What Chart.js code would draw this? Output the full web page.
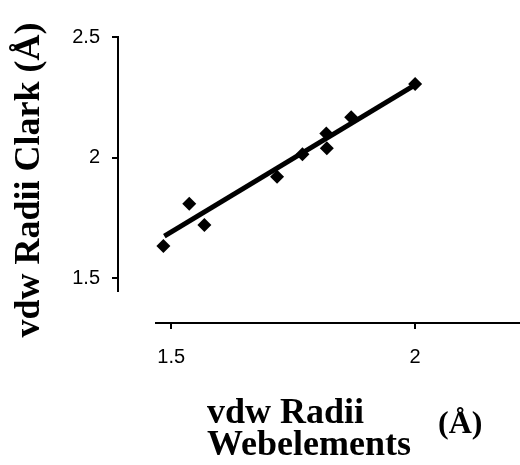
<!DOCTYPE html>
<html>
<head>
<meta charset="utf-8">
<script src="https://cdn.jsdelivr.net/npm/chart.js@4"></script>
<style>
  html, body { margin: 0; padding: 0; background: #fff; }
  #wrap { width: 520px; height: 465px; }
</style>
</head>
<body>
<div id="wrap"><canvas id="chart" width="520" height="465"></canvas></div>
<script>
// values
const webelements = [1.484, 1.537, 1.568, 1.717, 1.769, 1.818, 1.819, 1.869, 2.0];
const clark       = [1.633, 1.808, 1.720, 1.920, 2.013, 2.100, 2.038, 2.167, 2.305];

// fitted line, two ends
const trendX = [1.486, 2.0];
const trendY = [1.674, 2.301];

const xTicks = [1.5, 2];
const yTicks = [1.5, 2, 2.5];

const yTitle = 'vdw Radii Clark (Å)';
const xTitle = ['vdw Radii', 'Webelements'];
const xUnit = '(Å)';

const points = webelements.map((x, i) => ({ x: x, y: clark[i] }));
const trend = trendX.map((x, i) => ({ x: x, y: trendY[i] }));

// axis lines stop short, like the original; titles drawn by hand
const axisLines = {
    id: 'axisLines',
    afterDraw(chart) {
        const ctx = chart.ctx;
        const a = chart.chartArea;
        const ys = chart.scales.y;
        ctx.save();
        ctx.strokeStyle = '#000';
        ctx.lineWidth = 2;
        ctx.beginPath();
        ctx.moveTo(a.left, ys.getPixelForValue(2.5) - 1);
        ctx.lineTo(a.left, ys.getPixelForValue(1.442));
        ctx.moveTo(155, a.bottom);
        ctx.lineTo(a.right, a.bottom);
        ctx.stroke();

        ctx.fillStyle = '#000';
        ctx.font = 'bold 36px "Liberation Serif", "Times New Roman", serif';
        ctx.textBaseline = 'alphabetic';
        ctx.save();
        ctx.translate(39, 180);
        ctx.rotate(-Math.PI / 2);
        ctx.textAlign = 'center';
        ctx.fillText(yTitle, 0, 0);
        ctx.restore();

        ctx.textAlign = 'left';
        ctx.fillText(xTitle[0], 207, 423);
        ctx.fillText(xTitle[1], 207, 455);
        ctx.font = 'bold 32px "Liberation Serif", "Times New Roman", serif';
        ctx.fillText(xUnit, 438, 433);
        ctx.restore();
    }
};

const tickFont = { family: '"Liberation Sans", Arial, sans-serif', size: 20 };

new Chart(document.getElementById('chart'), {
    type: 'scatter',
    data: {
        datasets: [{
            data: points,
            pointStyle: 'rectRot',
            pointRadius: 7,
            backgroundColor: '#000',
            borderColor: '#000',
            borderWidth: 0
        }, {
            data: trend,
            showLine: true,
            pointRadius: 0,
            borderColor: '#000',
            borderWidth: 5
        }]
    },
    options: {
        responsive: false,
        animation: false,
        layout: { autoPadding: false, padding: { top: 37, right: 0, left: 0, bottom: 0 } },
        plugins: { legend: { display: false }, tooltip: { enabled: false } },
        scales: {
            x: {
                min: 1.391,
                max: 2.215,
                afterBuildTicks: s => { s.ticks = xTicks.map(v => ({ value: v })); },
                afterFit: s => { s.height = 142; },
                border: { display: false },
                grid: { drawOnChartArea: false, drawTicks: true, tickLength: 6, color: '#000', lineWidth: 2 },
                ticks: {
                    color: '#000',
                    padding: 16,
                    maxRotation: 0,
                    callback: v => String(v),
                    font: tickFont
                }
            },
            y: {
                min: 1.3133,
                max: 2.5,
                afterBuildTicks: s => { s.ticks = yTicks.map(v => ({ value: v })); },
                afterFit: s => { s.width = 118; },
                border: { display: false },
                grid: { drawOnChartArea: false, drawTicks: true, tickLength: 6, color: '#000', lineWidth: 2 },
                ticks: {
                    color: '#000',
                    padding: 12,
                    callback: v => String(v),
                    font: tickFont
                }
            }
        }
    },
    plugins: [axisLines]
});
</script>
</body>
</html>
